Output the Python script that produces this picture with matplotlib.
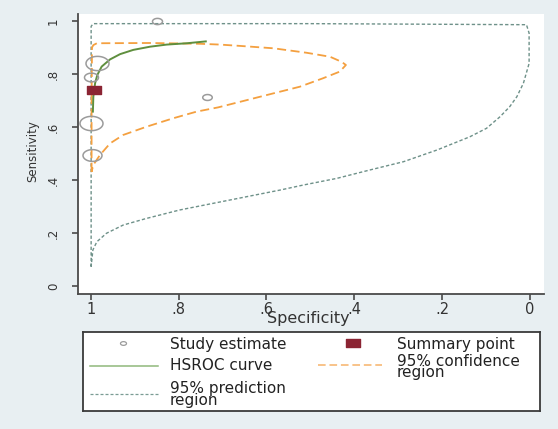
import numpy as np
import matplotlib
matplotlib.use("Agg")
import matplotlib.pyplot as plt
from matplotlib.path import Path

# study estimates (specificity, sensitivity, relative weight -> marker width in px)
study_spec = [0.849, 0.986, 1.000, 0.735, 0.999, 0.998]
study_sens = [1.000, 0.840, 0.788, 0.713, 0.615, 0.493]
study_size = [10, 23, 14, 9.5, 23, 19]

# summary point
summary_spec = 0.993
summary_sens = 0.740

# HSROC curve
hsroc_spec = [0.995, 0.994, 0.990, 0.985, 0.975, 0.956, 0.933, 0.903, 0.865, 0.827, 0.781, 0.738]
hsroc_sens = [0.658, 0.714, 0.765, 0.796, 0.828, 0.855, 0.875, 0.891, 0.903, 0.911, 0.916, 0.923]

# 95% confidence region (closed contour)
conf_spec = [0.998, 0.998, 0.997, 0.994, 0.986, 0.865, 0.751, 0.706, 0.660, 0.584,
             0.508, 0.455, 0.429, 0.419, 0.433, 0.471, 0.524, 0.584, 0.660, 0.710,
             0.759, 0.812, 0.873, 0.926, 0.956, 0.979, 0.994, 0.998]
conf_sens = [0.431, 0.700, 0.900, 0.909, 0.916, 0.917, 0.914, 0.911, 0.906, 0.897,
             0.880, 0.865, 0.846, 0.834, 0.809, 0.784, 0.752, 0.727, 0.695, 0.674,
             0.658, 0.633, 0.601, 0.570, 0.538, 0.494, 0.457, 0.431]

# 95% prediction region (closed contour)
pred_spec = [0.999, 0.999, 0.999, 0.994, 0.500, 0.008, 0.002, 0.002, 0.015, 0.030,
             0.046, 0.068, 0.099, 0.137, 0.212, 0.288, 0.364, 0.440, 0.516, 0.569,
             0.645, 0.721, 0.797, 0.873, 0.926, 0.964, 0.986, 0.995, 0.999]
pred_sens = [0.073, 0.500, 0.980, 0.990, 0.990, 0.986, 0.954, 0.840, 0.765, 0.714,
             0.677, 0.639, 0.595, 0.563, 0.513, 0.469, 0.438, 0.406, 0.381, 0.362,
             0.337, 0.312, 0.287, 0.255, 0.230, 0.199, 0.167, 0.136, 0.073]

xticks = [1, 0.8, 0.6, 0.4, 0.2, 0]
xtick_labels = ["1", ".8", ".6", ".4", ".2", "0"]
yticks = [0, 0.2, 0.4, 0.6, 0.8, 1]
ytick_labels = ["0", ".2", ".4", ".6", ".8", "1"]

BG = "#e8eff2"
GRAY = "#9b9b9b"
RED = "#8b2433"
GREEN = "#5f8f3e"
ORANGE = "#f4a040"
TEAL = "#6e9189"
AXC = "#4a4a4a"

W, H = 558, 429
fig = plt.figure(figsize=(W / 100, H / 100), dpi=100, facecolor=BG)


def box(x0, y0, x1, y1):
    # pixel box (top-left origin) -> figure fraction rect
    return [x0 / W, 1 - y1 / H, (x1 - x0) / W, (y1 - y0) / H]


def ellipse(ratio):
    t = np.linspace(0, 2 * np.pi, 60)
    return Path(np.column_stack([np.cos(t), ratio * np.sin(t)]), closed=True)


def rect(ratio):
    return Path([(-1, -ratio), (1, -ratio), (1, ratio), (-1, ratio), (-1, -ratio)], closed=True)


oval = ellipse(0.62)
sq = rect(0.57)

ax = fig.add_axes(box(78, 14, 544, 294))
ax.set_facecolor("white")
ax.set_xlim(1.0289, -0.0319)
ax.set_ylim(-0.0302, 1.0264)

ax.plot(pred_spec, pred_sens, color=TEAL, lw=1.0, ls=(0, (2.4, 1.6)), zorder=2)
ax.plot(conf_spec, conf_sens, color=ORANGE, lw=1.3, ls=(0, (5.0, 2.5)), zorder=3)
ax.plot(hsroc_spec, hsroc_sens, color=GREEN, lw=1.4, zorder=4)
for s, e, sz in zip(study_spec, study_sens, study_size):
    ax.plot(s, e, marker=oval, ms=sz * 0.72, mfc="none", mec=GRAY, mew=1.1, ls="none", zorder=5)
ax.plot(summary_spec, summary_sens, marker=sq, ms=14 * 0.72, mfc=RED, mec=RED, ls="none", zorder=6)

for side in ["top", "right"]:
    ax.spines[side].set_visible(False)
for side in ["left", "bottom"]:
    ax.spines[side].set_color(AXC)
    ax.spines[side].set_linewidth(1.3)

ax.set_xticks(xticks)
ax.set_xticklabels(xtick_labels, fontsize=10.5, color="#333333")
ax.set_yticks(yticks)
ax.set_yticklabels(ytick_labels, fontsize=8.5, color="#333333", rotation=90, va="center")
ax.tick_params(axis="both", direction="out", length=4, width=1.2, color=AXC)
ax.tick_params(axis="x", pad=2)
ax.tick_params(axis="y", pad=9)

fig.text(308 / W, 1 - 319 / H, "Specificity", fontsize=11.5, color="#333333",
         ha="center", va="center")
fig.text(33 / W, 1 - 151 / H, "Sensitivity", fontsize=8.5, color="#333333",
         ha="center", va="center", rotation=90)

# legend drawn in its own box, pixel coordinates
lax = fig.add_axes(box(83, 332, 540, 411))
lax.set_xlim(83, 540)
lax.set_ylim(411, 332)
lax.set_facecolor("white")
lax.set_xticks([])
lax.set_yticks([])
for sp in lax.spines.values():
    sp.set_color("#3a3a3a")
    sp.set_linewidth(1.3)

lax.plot(123, 343, marker=oval, ms=6 * 0.72, mfc="none", mec=GRAY, mew=0.9)
lax.plot(353, 343, marker=sq, ms=14 * 0.72, mfc=RED, mec=RED)
lax.plot([90, 158], [366, 366], color="#8fb87a", lw=1.1)
lax.plot([318, 382], [365, 365], color="#f6b36a", lw=1.1, ls=(0, (5.0, 2.5)))
lax.plot([90, 158], [394, 394], color="#7a9c94", lw=0.9, ls=(0, (2.4, 1.6)))

tk = dict(fontsize=11, color="#222222", va="center", ha="left", linespacing=0.75)
lax.text(170, 344, "Study estimate", **tk)
lax.text(397, 344, "Summary point", **tk)
lax.text(170, 366, "HSROC curve", **tk)
lax.text(397, 367, "95% confidence\nregion", **tk)
lax.text(170, 395, "95% prediction\nregion", **tk)

fig.savefig("out.png", dpi=100, facecolor=BG)
